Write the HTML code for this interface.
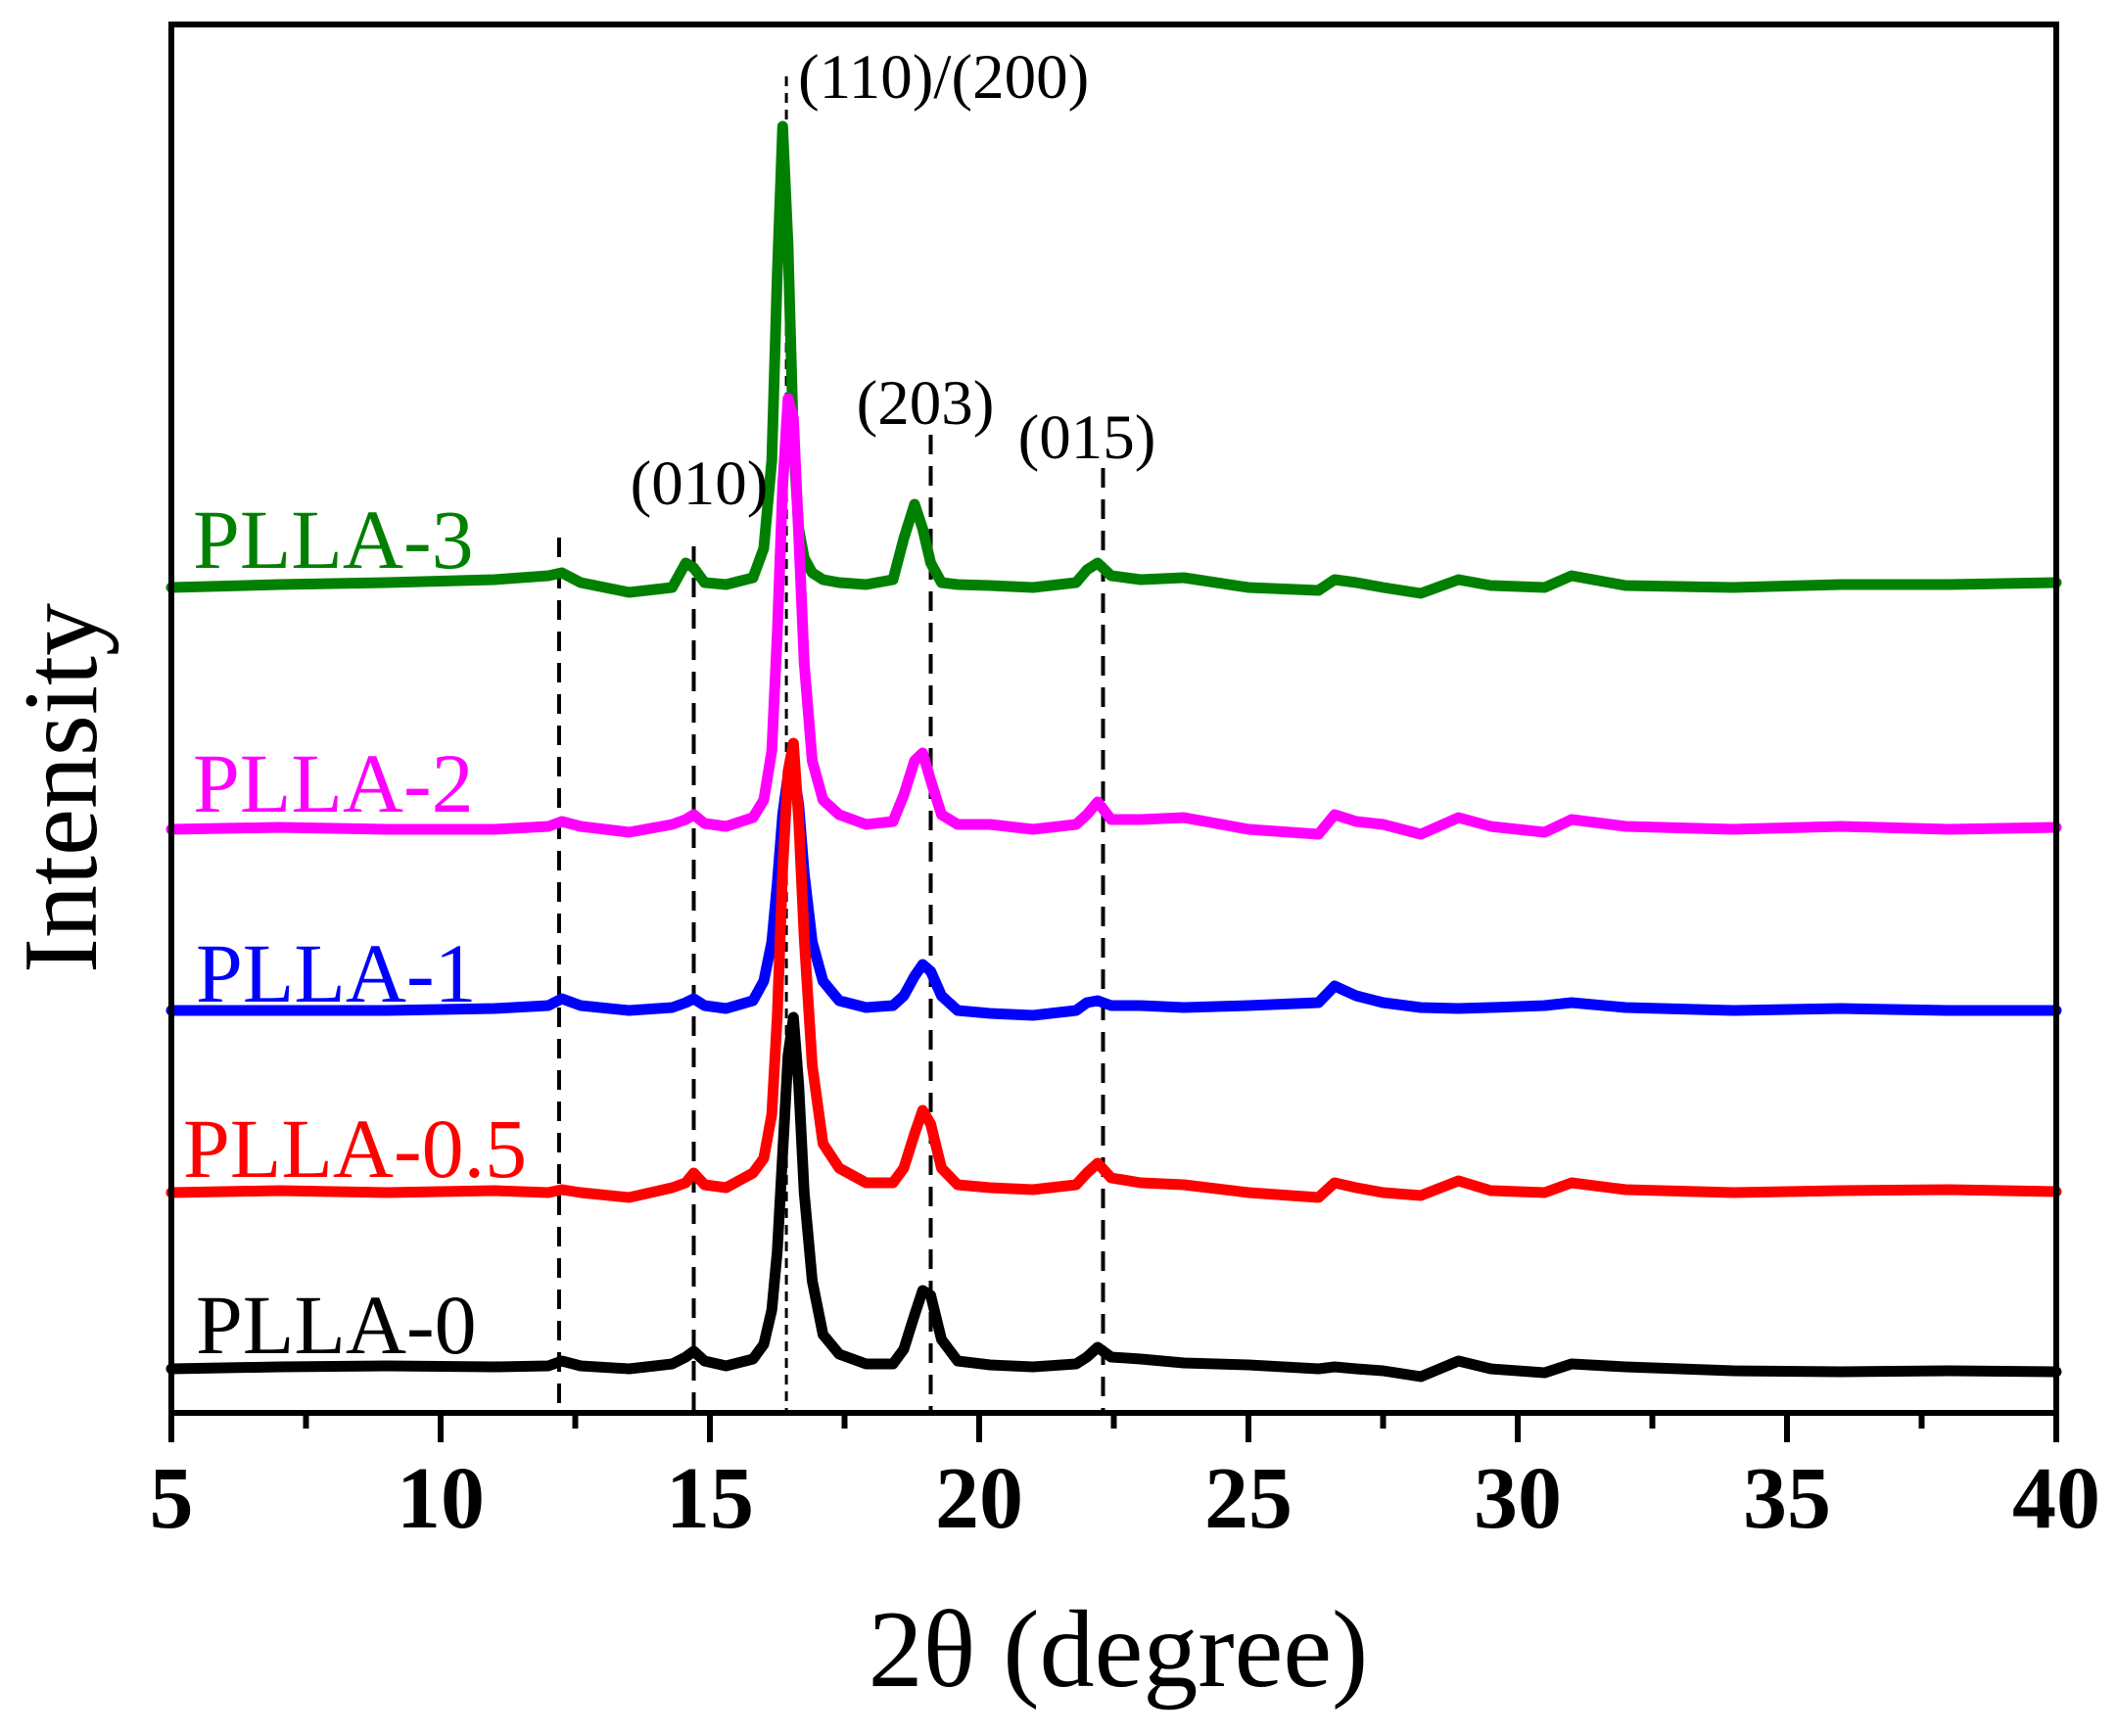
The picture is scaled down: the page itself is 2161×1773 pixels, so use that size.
<!DOCTYPE html>
<html><head><meta charset="utf-8"><style>
html,body{margin:0;padding:0;background:#fff;}
svg{display:block;font-family:"Liberation Serif",serif;}
</style></head><body>
<svg id="chart" width="2161" height="1773" viewBox="0 0 2161 1773" xmlns="http://www.w3.org/2000/svg">
<g id="dashes"></g>
<g id="series"></g>
<g id="axes"></g>
<g id="annot"></g>
</svg>
<script>
const xs = [5,7,9,11,12.0,12.25,12.6,13.5,14.3,14.55,14.7,14.9,15.3,15.8,16.0,16.15,16.25,16.35,16.45,16.55,16.65,16.75,16.9,17.1,17.4,17.9,18.4,18.6,18.8,18.95,19.1,19.3,19.6,20.2,21,21.8,22.0,22.2,22.45,23,23.8,25,26.3,26.6,27,27.5,28.2,28.9,29.5,30.5,31.0,32,34,36,38,40];
const seriesNames = ["PLLA-3","PLLA-2","PLLA-1","PLLA-0.5","PLLA-0"];
const seriesColors = ["#008000","#ff00ff","#0000ff","#ff0000","#000000"];
const seriesOffsets = [843,596,411,225,45];
const green = [0,3,5,8,12,15,5,-5,0,25,20,5,3,10,40,130,320,471,350,150,60,30,15,8,5,3,8,50,85,60,25,5,3,2,0,5,18,25,12,8,10,0,-3,8,5,0,-6,8,2,0,12,2,0,3,3,5];
const magenta = [0,2,0,0,3,8,3,-3,5,10,15,6,3,12,30,80,200,350,440,420,300,170,70,30,15,5,8,35,70,78,50,15,5,5,0,5,15,28,10,10,12,0,-5,15,8,5,-5,12,3,-3,10,3,0,3,0,2];
const blue = [0,0,0,2,5,12,5,0,3,8,12,5,2,10,30,70,130,200,240,246,210,140,70,30,10,3,5,15,35,47,40,15,0,-3,-5,0,8,10,5,5,3,5,8,25,15,8,3,2,3,5,8,3,0,2,0,0];
const red = [0,2,0,2,0,3,0,-5,5,10,20,8,5,20,35,80,180,330,430,459,380,260,130,50,25,10,10,25,60,84,70,25,8,5,3,8,20,30,15,10,8,0,-5,10,5,0,-3,12,2,0,10,3,0,2,3,1];
const black = [0,2,3,2,3,8,3,0,5,12,18,8,3,10,25,60,120,220,320,359,290,180,90,35,15,5,5,20,55,80,75,30,8,4,2,5,12,22,12,10,6,4,0,2,0,-2,-8,8,0,-4,5,2,-2,-3,-2,-3];
const seriesValues = [green, magenta, blue, red, black];
const xTicks = [5,10,15,20,25,30,35,40];
const xMinor = [7.5,12.5,17.5,22.5,27.5,32.5,37.5];
const refLines = [12.2,14.7,19.1,22.3];
const mainRef = 16.42;
const peakLabels = ["(010)","(203)","(015)"];
const peakLabelX = [14.8,19.0,22.0];

const L=175,R=2100,T=25,B=1443;
const X = v => L + (v-5)/(40-5)*(R-L);
const Y = v => B - v;
const NS="http://www.w3.org/2000/svg";
function mk(tag, parent, attrs){const e=document.createElementNS(NS,tag);for(const k in attrs)e.setAttribute(k,attrs[k]);parent.appendChild(e);return e;}

const dg=document.getElementById('dashes');
const dashTops=[549,558,444,478];
refLines.forEach((v,i)=>{
  const l=mk('line',dg,{x1:X(v),x2:X(v),y1:dashTops[i],y2:B,stroke:'#000','stroke-width':4,'stroke-dasharray':'20 12'});
  
  
});
const ml=mk('line',dg,{x1:X(mainRef),x2:X(mainRef),y1:78,y2:B,stroke:'#000','stroke-width':3,'stroke-dasharray':'10 7'});



const sg=document.getElementById('series');
[0,1,2,3,4].forEach(i=>{
  const pts=xs.map((x,j)=>X(x).toFixed(1)+','+Y(seriesOffsets[i]+seriesValues[i][j]).toFixed(1)).join(' ');
  const p=mk('polyline',sg,{points:pts,fill:'none',stroke:seriesColors[i],'stroke-width':11,'stroke-linejoin':'round','stroke-linecap':'round'});
  
  
});

const ag=document.getElementById('axes');
const frame=mk('rect',ag,{x:L,y:T,width:R-L,height:B-T,fill:'none',stroke:'#000','stroke-width':6});


xTicks.forEach(v=>{
  const t=mk('line',ag,{x1:X(v),x2:X(v),y1:B,y2:B+30,stroke:'#000','stroke-width':6});
  
  
  const tx=mk('text',ag,{x:X(v),y:1560,'text-anchor':'middle','font-size':90,'font-weight':'bold'});
  tx.textContent=v;
  
  
});
xMinor.forEach(v=>{
  const t=mk('line',ag,{x1:X(v),x2:X(v),y1:B,y2:B+16,stroke:'#000','stroke-width':6});
  
  
});
const xt=mk('text',ag,{x:1142,y:1722,'text-anchor':'middle','font-size':112});
xt.textContent='2θ (degree)';


const yt=mk('text',ag,{x:0,y:0,'text-anchor':'middle','font-size':108,transform:'translate(98,805) rotate(-90)'});
yt.textContent='Intensity';



const an=document.getElementById('annot');
const labelY=[580,829,1023,1202,1382];
const labelX=[197,197,200,187,200];
seriesNames.forEach((n,i)=>{
  const t=mk('text',an,{x:labelX[i],y:labelY[i],'font-size':86,fill:seriesColors[i]});
  t.textContent=n;
  
  
});
const topLabel=mk('text',an,{x:815,y:100,'font-size':65});
topLabel.textContent='(110)/(200)';


const plY=[515,433,468];
peakLabels.forEach((s,i)=>{
  const t=mk('text',an,{x:X(peakLabelX[i]),y:plY[i],'font-size':65,'text-anchor':'middle'});
  t.textContent=s;
  
  
});
</script>
</body></html>
